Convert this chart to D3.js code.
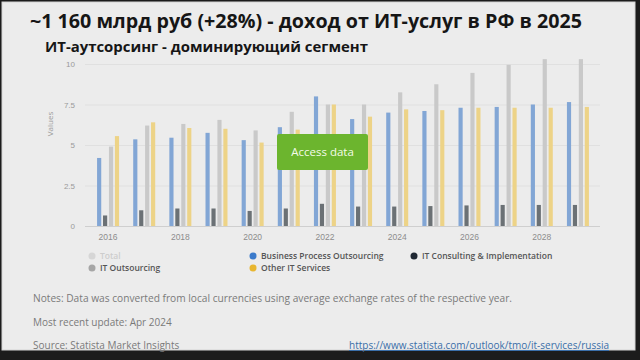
<!DOCTYPE html>
<html>
<head>
<meta charset="utf-8">
<script src="https://cdn.jsdelivr.net/npm/d3@7"></script>
<style>
  html, body { margin: 0; padding: 0; background: #1c1c1c; }
  svg { display: block; font-family: "Open Sans", sans-serif; }
</style>
</head>
<body>
<svg id="chart" width="640" height="360"></svg>
<script>
// Revenue of IT services in Russia, by segment (values as shown, hidden "Total" not drawn)
var years = [2016, 2017, 2018, 2019, 2020, 2021, 2022, 2023, 2024, 2025, 2026, 2027, 2028, 2029];
var bpo = [4.2, 5.35, 5.45, 5.75, 5.3, 6.1, 8.0, 6.6, 7.0, 7.1, 7.3, 7.35, 7.5, 7.65];
var consulting = [0.65, 0.97, 1.08, 1.08, 0.93, 1.08, 1.37, 1.2, 1.2, 1.23, 1.27, 1.3, 1.3, 1.3];
var outsourcing = [4.9, 6.2, 6.3, 6.55, 5.9, 7.05, 7.5, 7.5, 8.25, 8.75, 9.45, 9.95, 10.3, 10.3];
var otherIt = [5.55, 6.4, 6.05, 6.0, 5.15, 5.95, 7.5, 6.75, 7.2, 7.15, 7.3, 7.3, 7.3, 7.35];
var yTicks = [0, 2.5, 5, 7.5, 10];
var xTickYears = [2016, 2018, 2020, 2022, 2024, 2026, 2028];

var seriesNames = ["Business Process Outsourcing", "IT Consulting & Implementation", "IT Outsourcing", "Other IT Services"];
var seriesValues = [bpo, consulting, outsourcing, otherIt];
var barColors = ["#82a6d5", "#6b7175", "#c9c9c9", "#edd387"];

var legendNames = ["Total", "IT Outsourcing", "Business Process Outsourcing", "Other IT Services", "IT Consulting & Implementation"];
var legendColors = ["#d6d6d6", "#a6a6a6", "#3c7bcb", "#e8b630", "#1f2833"];

(function () {
    var svg = d3.select("#chart");

    // screenshot frame
    svg.append("rect").attr("x", 2).attr("y", 2).attr("width", 633).attr("height", 348)
        .attr("fill", "#ececec").attr("stroke", "#d4d4d4");

    // titles
    svg.append("text").attr("x", 30).attr("y", 28)
        .attr("textLength", 552).attr("lengthAdjust", "spacingAndGlyphs")
        .style("font-size", "19.5px").style("font-weight", "700").style("fill", "#161616")
        .text("~1 160 млрд руб (+28%) - доход от ИТ-услуг в РФ в 2025");
    svg.append("text").attr("x", 45).attr("y", 52)
        .attr("textLength", 323).attr("lengthAdjust", "spacingAndGlyphs")
        .style("font-size", "15px").style("font-weight", "700").style("fill", "#161616")
        .text("ИТ-аутсорсинг - доминирующий сегмент");

    // scales
    var x = d3.scaleBand().domain(years).range([90, 596]).padding(0);
    var sub = d3.scaleBand().domain(seriesNames).range([-11, 11]).paddingInner(0.3);
    var y = d3.scaleLinear().domain([0, 10]).range([226, 64]);

    // grid + y axis
    var gy = svg.append("g").attr("transform", "translate(85,0)")
        .call(d3.axisLeft(y).tickValues(yTicks).tickSize(-515).tickPadding(10)
            .tickFormat(function (d) { return String(d); }));
    gy.select(".domain").remove();
    gy.selectAll("line").attr("stroke", function (d) { return d === 0 ? "#cfcfcf" : "#e0e0e0"; });
    gy.selectAll("text").style("font-size", "8px").style("fill", "#9a9a9a");

    svg.append("text").attr("transform", "translate(53,124) rotate(-90)")
        .attr("text-anchor", "middle").style("font-size", "8px").style("fill", "#9a9a9a")
        .text("Values");

    // x axis
    var gx = svg.append("g").attr("transform", "translate(0,226)")
        .call(d3.axisBottom(x).tickValues(xTickYears).tickSize(0).tickPadding(8));
    gx.select(".domain").remove();
    gx.selectAll("text").style("font-size", "8.5px").style("fill", "#8c8c8c");

    // bars
    seriesNames.forEach(function (name, si) {
        svg.append("g").selectAll("rect").data(seriesValues[si]).enter().append("rect")
            .attr("x", function (d, i) { return x(years[i]) + x.bandwidth() / 2 + sub(name); })
            .attr("y", function (d) { return y(d); })
            .attr("width", sub.bandwidth())
            .attr("height", function (d) { return y(0) - y(d); })
            .attr("fill", barColors[si]);
    });

    // access data overlay
    svg.append("rect").attr("x", 277).attr("y", 134).attr("width", 91).attr("height", 36)
        .attr("rx", 2).attr("fill", "#6cb52e");
    svg.append("text").attr("x", 322.5).attr("y", 156).attr("text-anchor", "middle")
        .style("font-size", "11.5px").style("fill", "#f4fbe9").text("Access data");

    // legend
    var legendPos = [[92, 256], [92, 268], [253, 256], [253, 268], [414, 256]];
    legendNames.forEach(function (name, i) {
        var g = svg.append("g").attr("transform", "translate(" + legendPos[i][0] + "," + legendPos[i][1] + ")");
        g.append("circle").attr("r", 3.5).attr("fill", legendColors[i]);
        g.append("text").attr("x", 8).attr("y", 3)
            .style("font-size", "8.5px").style("font-weight", "600")
            .style("fill", i === 0 ? "#cdcdcd" : "#555")
            .text(name);
    });

    // footer
    var foot = svg.append("g").style("font-size", "10px").style("fill", "#7a7a7a");
    foot.append("text").attr("x", 33).attr("y", 302)
        .attr("textLength", 479).attr("lengthAdjust", "spacingAndGlyphs")
        .text("Notes: Data was converted from local currencies using average exchange rates of the respective year.");
    foot.append("text").attr("x", 33).attr("y", 326).text("Most recent update: Apr 2024");
    foot.append("text").attr("x", 33).attr("y", 349).text("Source: Statista Market Insights");
    foot.append("text").attr("x", 349).attr("y", 349)
        .attr("textLength", 260).attr("lengthAdjust", "spacingAndGlyphs")
        .style("fill", "#3a6ea8").style("text-decoration", "underline")
        .text("https://www.statista.com/outlook/tmo/it-services/russia");
})();
</script>
</body>
</html>
